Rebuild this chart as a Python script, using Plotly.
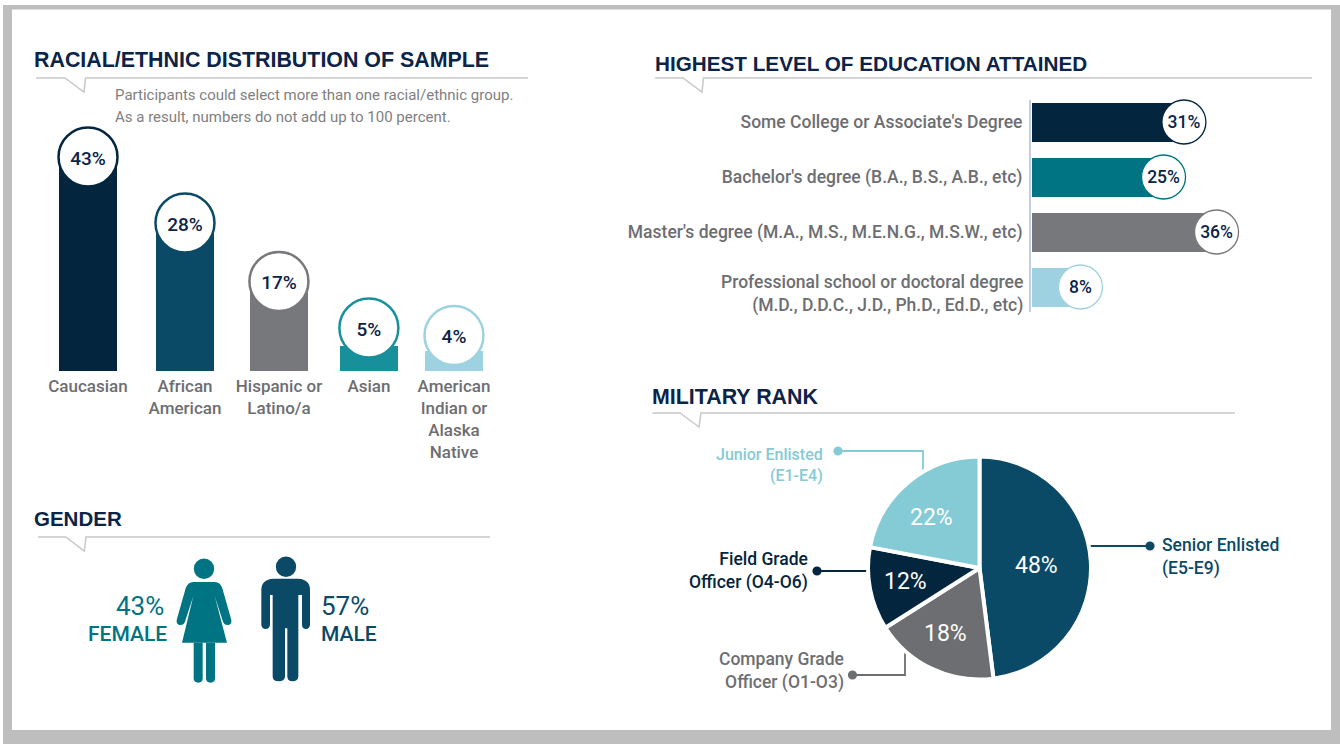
import re
import plotly.graph_objects as go

W, H = 1340, 744
FONT = "Roboto, 'Liberation Sans', sans-serif"
TITLE_FONT = "'Liberation Sans', Arial, sans-serif"
NAVY, BLUE, TEAL, GREY, CYAN, SKY = "#03263E", "#0B4A66", "#007482", "#77787B", "#18909B", "#9FD2E0"
INK = "#0B2447"
LABEL_GREY = "#6D6E71"
RULE = "#C8C8C8"

# ---- data ----
race_labels = ["Caucasian", "African<br>American", "Hispanic or<br>Latino/a", "Asian", "American<br>Indian or<br>Alaska<br>Native"]
race_values = [43, 28, 17, 5, 4]
race_slots = [0, 1.06, 2.087, 3.07, 4]
race_badge_levels = [42.8, 29.6, 17.9, 8.6, 7.1]
race_colors = [NAVY, BLUE, GREY, CYAN, SKY]

edu_labels = ["Some College or Associate's Degree", "Bachelor's degree (B.A., B.S., A.B., etc)",
              "Master's degree (M.A., M.S., M.E.N.G., M.S.W., etc)",
              "Professional school or doctoral degree<br>(M.D., D.D.C., J.D., Ph.D., Ed.D., etc)"]
edu_values = [31, 25, 36, 8]
edu_rows = [0, 1, 2, 3]
edu_badge_levels = [29.8, 25.8, 36.2, 9.5]
edu_colors = [NAVY, TEAL, GREY, SKY]

rank_labels = ["Senior Enlisted", "Company Grade Officer", "Field Grade Officer", "Junior Enlisted"]
rank_values = [48, 18, 12, 22]
rank_colors = [BLUE, "#6D6E71", NAVY, "#84CBD6"]

gender_labels = ["FEMALE", "MALE"]
gender_values = [43, 57]


def dom_x(a, b):
    return [a / W, b / W]


def dom_y(top, bottom):
    return [1 - bottom / H, 1 - top / H]


fig = go.Figure()

# ---- invisible pixel canvas for frame, rules, icons, call-outs (first subplot, drawn underneath) ----
fig.add_trace(go.Scatter(x=[], y=[], xaxis="x", yaxis="y", showlegend=False))

# ---- race bars ----
fig.add_trace(go.Bar(x=race_slots, y=race_values, width=58 / 91.5, marker=dict(color=race_colors, line_width=0),
                     xaxis="x2", yaxis="y2", hoverinfo="skip"))
fig.add_trace(go.Scatter(x=race_slots, y=race_badge_levels, mode="markers", xaxis="x2", yaxis="y2",
                         marker=dict(size=59, color="white", line=dict(width=2.5, color=race_colors)),
                         cliponaxis=False, hoverinfo="skip"))
fig.add_trace(go.Scatter(x=race_slots, y=[v - 0.6 for v in race_badge_levels], mode="text", xaxis="x2", yaxis="y2",
                         text=[f"{v}%" for v in race_values], textposition="middle center",
                         textfont=dict(family=FONT, size=19, color=INK, weight=500),
                         cliponaxis=False, hoverinfo="skip"))

# ---- education bars ----
fig.add_trace(go.Bar(y=edu_rows, x=edu_values, orientation="h", width=39 / 55, marker=dict(color=edu_colors, line_width=0),
                     xaxis="x3", yaxis="y3", hoverinfo="skip"))
fig.add_trace(go.Scatter(y=edu_rows, x=edu_badge_levels, mode="markers", xaxis="x3", yaxis="y3",
                         marker=dict(size=44, color="white", line=dict(width=1.3, color=edu_colors)),
                         cliponaxis=False, hoverinfo="skip"))
fig.add_trace(go.Scatter(y=[r + 0.035 for r in edu_rows], x=edu_badge_levels, mode="text", xaxis="x3", yaxis="y3",
                         text=[f"{v}%" for v in edu_values], textposition="middle center",
                         textfont=dict(family=FONT, size=17.5, color=INK, weight=500),
                         cliponaxis=False, hoverinfo="skip"))

# ---- pie ----
fig.add_trace(go.Pie(labels=rank_labels, values=rank_values, sort=False, direction="clockwise", rotation=0,
                     marker=dict(colors=rank_colors, line=dict(color="white", width=4)),
                     textinfo="none", showlegend=False, hoverinfo="skip",
                     domain=dict(x=dom_x(868, 1091), y=dom_y(456.5, 679.5))))

shapes, ann = [], []


def rect(x0, y0, x1, y1, fill, layer="below"):
    shapes.append(dict(type="rect", xref="x", yref="y", x0=x0, y0=y0, x1=x1, y1=y1,
                       fillcolor=fill, line_width=0, layer=layer))


def path(d, fill=None, line=None, width=0, layer="below"):
    s = dict(type="path", xref="x", yref="y", path=d, layer=layer)
    s["fillcolor"] = fill if fill else "rgba(0,0,0,0)"
    s["line"] = dict(color=line if line else "rgba(0,0,0,0)", width=width)
    shapes.append(s)


def dot(x, y, r, fill, layer="below"):
    shapes.append(dict(type="circle", xref="x", yref="y", x0=x - r, x1=x + r, y0=y - r, y1=y + r,
                       fillcolor=fill, line_width=0, layer=layer))


def text(x, y, s, size, color, anchor="left", bold=False, family=FONT, weight=500):
    pad = {"left": -2, "right": 2, "center": 0}[anchor]
    ann.append(dict(xref="x", yref="y", x=x + pad, y=y, text=s, showarrow=False, xanchor=anchor, yanchor="middle",
                    align=anchor, font=dict(family=family, size=size, color=color, weight=700 if bold else weight)))


rect(3, 5, W, H, "#BEBEBE")
rect(12, 9.5, 1331, 730, "white")


def header(title, tx, ty, size, x0, x1, y, n0, n1, n2, ny):
    text(tx, ty, title, size, INK, bold=True, family=TITLE_FONT)
    path(f"M {x0} {y} L {n0} {y} L {n1} {ny} L {n2} {y} L {x1} {y}", line=RULE, width=1.5)


header("RACIAL/ETHNIC DISTRIBUTION OF SAMPLE", 34, 60, 21.4, 36, 528, 78, 65, 84, 85.5, 92)
header("HIGHEST LEVEL OF EDUCATION ATTAINED", 655, 63.5, 20.7, 655, 1312, 78, 683, 702, 703.5, 92)
header("MILITARY RANK", 652, 397, 21.4, 652.5, 1235, 413, 680, 699, 701, 427)
header("GENDER", 34, 518, 20.5, 38, 490, 537, 65.7, 84.3, 86, 551)

text(115, 95, "Participants could select more than one racial/ethnic group.", 15, "#808080", weight=400)
text(115, 117, "As a result, numbers do not add up to 100 percent.", 15, "#808080", weight=400)

# last education label sits lower than its bar, as in the source
text(1023, 294, edu_labels[3], 17.5, LABEL_GREY, anchor="right")


# gender icons: outlines traced on a 3x grid, offset to the page
def icon(d):
    res, is_x = [], True
    for tok in d.split():
        if re.fullmatch(r"-?\d+\.?\d*", tok):
            v = float(tok)
            res.append(f"{20 + v / 3:.2f}" if is_x else f"{490 + v / 3:.2f}")
            is_x = not is_x
        else:
            res.append(tok)
    return " ".join(res)


FEMALE_BODY = ("M 520 276 L 585 276 Q 600 276 607 295 L 634 390 Q 636 405 622 405 Q 612 405 608 392 L 584 318 "
               "L 621 458 L 486 458 L 520 318 L 496 392 Q 492 405 482 405 Q 468 405 470 390 L 497 295 Q 504 276 520 276 Z")
FEMALE_LEG_L = "M 521 458 L 548 458 L 548 565 Q 548 578 535 578 Q 521 578 521 565 Z"
FEMALE_LEG_R = "M 558 458 L 585 458 L 585 565 Q 585 578 572 578 Q 558 578 558 565 Z"
MALE_BODY = ("M 760 266 L 835 266 Q 870 268 870 300 L 870 405 Q 868 417 858 417 Q 847 417 846 405 L 846 315 L 835 315 "
             "L 835 560 Q 833 574 818 574 Q 803 574 802 560 L 802 415 L 795 415 L 795 560 Q 793 574 776 574 "
             "Q 759 574 758 560 L 758 315 L 750 315 L 750 405 Q 748 417 737 417 Q 726 417 724 405 L 724 300 Q 724 268 760 266 Z")
for d in (FEMALE_BODY, FEMALE_LEG_L, FEMALE_LEG_R):
    path(icon(d), fill=TEAL)
dot(204, 568.7, 10.2, TEAL)
path(icon(MALE_BODY), fill=BLUE)
dot(286, 566.7, 10.2, BLUE)

text(164, 606, f"{gender_values[0]}%", 26, TEAL, anchor="right", weight=400)
text(167, 633.5, gender_labels[0], 21, TEAL, anchor="right")
text(321, 606, f"{gender_values[1]}%", 26, BLUE, weight=400)
text(321, 633.5, gender_labels[1], 21, BLUE)

# pie percentages
for (x, y), v in zip([(1036.5, 565.5), (945, 633), (905, 581), (931, 517)], rank_values):
    text(x, y, f"{v}%", 23, "white", anchor="center", weight=400)

# pie call-outs
path("M 838 451 L 923 451 L 923 478", line="#84CBD6", width=1.8)
dot(838, 451, 4.6, "#84CBD6")
text(823, 464.5, "Junior Enlisted<br>(E1-E4)", 16, "#84CBD6", anchor="right")

path("M 1089 546 L 1150 546", line=BLUE, width=1.8)
dot(1150, 546, 4.6, BLUE)
text(1162, 557, "Senior Enlisted<br>(E5-E9)", 17.5, BLUE)

path("M 817 571 L 872 571", line=NAVY, width=1.8)
dot(817, 571, 4.6, NAVY)
text(808, 571, "Field Grade<br>Officer (O4-O6)", 17.5, NAVY, anchor="right")

path("M 852 675 L 905 675 L 905 647", line=LABEL_GREY, width=1.8)
dot(852.5, 675, 4.6, LABEL_GREY)
text(844, 671, "Company Grade<br>Officer (O1-O3)", 17.5, LABEL_GREY, anchor="right")

fig.update_layout(
    width=W, height=H, autosize=False, margin=dict(l=0, r=0, t=0, b=0, pad=0),
    paper_bgcolor="white", plot_bgcolor="rgba(0,0,0,0)", showlegend=False, bargap=0,
    shapes=shapes, annotations=ann,
    xaxis=dict(domain=[0, 1], range=[0, W], visible=False, anchor="y"),
    yaxis=dict(domain=[0, 1], range=[H, 0], visible=False, anchor="x"),
    xaxis2=dict(domain=dom_x(40, 500), range=[-0.5246, 4.503], tickmode="array", tickvals=race_slots, ticktext=race_labels,
                showgrid=False, zeroline=False, showline=False, ticks="", ticklabelstandoff=3,
                tickfont=dict(family=FONT, size=17, color=LABEL_GREY, weight=500), anchor="y2"),
    yaxis2=dict(domain=dom_y(110, 371), range=[0, 52.2], visible=False, anchor="x2"),
    xaxis3=dict(domain=dom_x(1031, 1320), range=[-0.2, 56.5], visible=False, anchor="y3"),
    yaxis3=dict(domain=dom_y(100, 312), range=[3.4545, -0.4], tickmode="array", tickvals=edu_rows[:3], ticktext=edu_labels[:3],
                showgrid=False, zeroline=False, showline=True, linecolor="#C5CDE6", linewidth=2,
                ticks="outside", ticklen=3, tickcolor="rgba(0,0,0,0)",
                tickfont=dict(family=FONT, size=17.5, color=LABEL_GREY, weight=500), anchor="x3"),
)

fig.write_html("out.html", config=dict(displayModeBar=False),
               post_script="document.body.style.margin='0';document.body.style.overflow='hidden';")
